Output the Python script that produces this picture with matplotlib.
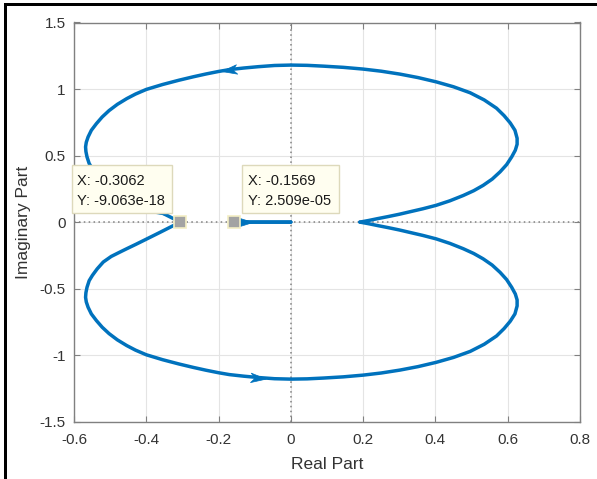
import numpy as np
import matplotlib
matplotlib.use('Agg')
import matplotlib.pyplot as plt
from matplotlib.path import Path
from matplotlib.markers import MarkerStyle
from matplotlib.transforms import Affine2D
from matplotlib.patches import Rectangle

plt.rcParams['font.family'] = ['Liberation Sans', 'DejaVu Sans']

# positive-frequency branch of the Nyquist curve (real, imag)
upper_re = [0.191, 0.215, 0.240, 0.270, 0.300, 0.330, 0.365, 0.402, 0.440, 0.477,
            0.506, 0.532, 0.557, 0.579, 0.597, 0.611, 0.621, 0.626, 0.626, 0.620,
            0.607, 0.590, 0.569, 0.535, 0.496, 0.450, 0.402, 0.352, 0.302, 0.250,
            0.200, 0.145, 0.090, 0.045, 0.000, -0.045, -0.090, -0.130, -0.170, -0.200,
            -0.235, -0.270, -0.310, -0.355, -0.400, -0.430, -0.454, -0.480, -0.503, -0.522,
            -0.538, -0.552, -0.561, -0.566, -0.568, -0.567, -0.564, -0.558, -0.549, -0.536,
            -0.519, -0.497, -0.472, -0.454, -0.428, -0.399, -0.362, -0.330, -0.306]
upper_im = [0.000, 0.012, 0.026, 0.042, 0.059, 0.078, 0.100, 0.126, 0.160, 0.200,
            0.236, 0.276, 0.323, 0.378, 0.432, 0.490, 0.540, 0.585, 0.630, 0.690,
            0.745, 0.800, 0.856, 0.918, 0.972, 1.017, 1.054, 1.086, 1.112, 1.134,
            1.150, 1.163, 1.172, 1.178, 1.180, 1.177, 1.168, 1.158, 1.146, 1.132,
            1.113, 1.092, 1.066, 1.034, 0.997, 0.962, 0.928, 0.885, 0.838, 0.790,
            0.740, 0.690, 0.640, 0.600, 0.565, 0.530, 0.490, 0.440, 0.400, 0.352,
            0.300, 0.258, 0.224, 0.200, 0.166, 0.127, 0.077, 0.033, 0.000]

# short high-frequency piece ending at the origin
tail_re = [-0.1569, 0.0]
tail_im = [2.509e-05, 0.0]

# data tips
tip_x = [-0.3062, -0.1569]
tip_y = [-9.063e-18, 2.509e-05]
tip_labels = [('X: -0.3062', 'Y: -9.063e-18'), ('X: -0.1569', 'Y: 2.509e-05')]

blue = '#0072BD'

fig = plt.figure(figsize=(5.97, 4.79), dpi=100)
ax = fig.add_axes([74 / 597, 1 - 421.7 / 479, 506 / 597, 399.2 / 479])
ax.set_xlim(-0.6, 0.8)
ax.set_ylim(-1.5, 1.5)
ax.set_xticks(np.arange(-0.6, 0.81, 0.2))
ax.set_yticks(np.arange(-1.5, 1.51, 0.5))
ax.set_xticklabels(['-0.6', '-0.4', '-0.2', '0', '0.2', '0.4', '0.6', '0.8'])
ax.set_yticklabels(['-1.5', '-1', '-0.5', '0', '0.5', '1', '1.5'])

ax.grid(True, color='#e4e4e4', lw=0.8, zorder=0)
ax.set_axisbelow(True)
ax.axhline(0, color='#808080', ls=(0, (1, 2.2)), lw=1.1, zorder=1)
ax.axvline(0, color='#808080', ls=(0, (1, 2.2)), lw=1.1, zorder=1)

ure = np.array(upper_re)
uim = np.array(upper_im)
style = dict(color=blue, lw=2.5, zorder=3, solid_capstyle='round', solid_joinstyle='round')
ax.plot(ure, uim, **style)
ax.plot(ure, -uim, **style)
ax.plot(tail_re, tail_im, **style)
ax.plot(tail_re, [-v for v in tail_im], **style)

# barbed arrowhead pointing along +x
head = Path([(1, 0), (-1, 0.62), (-0.45, 0), (-1, -0.62), (1, 0)],
            [Path.MOVETO, Path.LINETO, Path.LINETO, Path.LINETO, Path.CLOSEPOLY])


def arrow(x, y, x0, y0, x1, y1, size=11):
    a = ax.transData.transform([(x0, y0), (x1, y1)])
    ang = np.degrees(np.arctan2(a[1, 1] - a[0, 1], a[1, 0] - a[0, 0]))
    m = MarkerStyle(head, transform=Affine2D().rotate_deg(ang))
    ax.plot([x], [y], marker=m, ms=size, color=blue, mec=blue, mew=0.5,
            ls='none', zorder=4)


i = upper_re.index(-0.170)
arrow(ure[i], uim[i], ure[i - 1], uim[i - 1], ure[i + 1], uim[i + 1])
i = upper_re.index(-0.090)
arrow(ure[i], -uim[i], ure[i + 1], -uim[i + 1], ure[i - 1], -uim[i - 1])
i = upper_re.index(-0.362)
arrow(ure[i], uim[i], ure[i - 1], uim[i - 1], ure[i + 1], uim[i + 1], size=9)
arrow(-0.128, 0.0, -0.2, 0.0, 0.0, 0.0)

# data tip markers and boxes
ax.plot(tip_x, tip_y, 's', ms=8.5, color='#a3a3a3', mec='#f3eec4', mew=1.2,
        zorder=6, clip_on=False)
box_left = [-0.6065, -0.136]
box_w = [0.2775, 0.269]
text_left = [-0.593, -0.118]
for k in range(2):
    ax.add_patch(Rectangle((box_left[k], 0.0677), box_w[k], 0.361,
                           facecolor='#fffef0', edgecolor='#ddd9bb', lw=1,
                           zorder=5, clip_on=False))
    ax.text(text_left[k], 0.308, tip_labels[k][0], fontsize=10.5, color='#1a1a1a',
            va='center', ha='left', zorder=7)
    ax.text(text_left[k], 0.158, tip_labels[k][1], fontsize=10.5, color='#1a1a1a',
            va='center', ha='left', zorder=7)

for s in ax.spines.values():
    s.set_color('#808080')
    s.set_linewidth(1)
ax.tick_params(direction='in', length=4, width=0.8, color='#808080',
               labelsize=11, labelcolor='#333333', top=True, right=True)
ax.tick_params(axis='x', pad=8)
ax.tick_params(axis='y', pad=6)
ax.set_xlabel('Real Part', fontsize=12.5, color='#333333', labelpad=7)
ax.set_ylabel('Imaginary Part', fontsize=12.5, color='#333333', labelpad=6)

# black frame along the top and left edges
fig.add_artist(Rectangle((4 / 597, 1 - 6 / 479), 1, 2.6 / 479, transform=fig.transFigure,
                         facecolor='black', edgecolor='none'))
fig.add_artist(Rectangle((4 / 597, 0), 2.8 / 597, 1 - 3.4 / 479, transform=fig.transFigure,
                         facecolor='black', edgecolor='none'))

fig.savefig('out.png', dpi=100)
